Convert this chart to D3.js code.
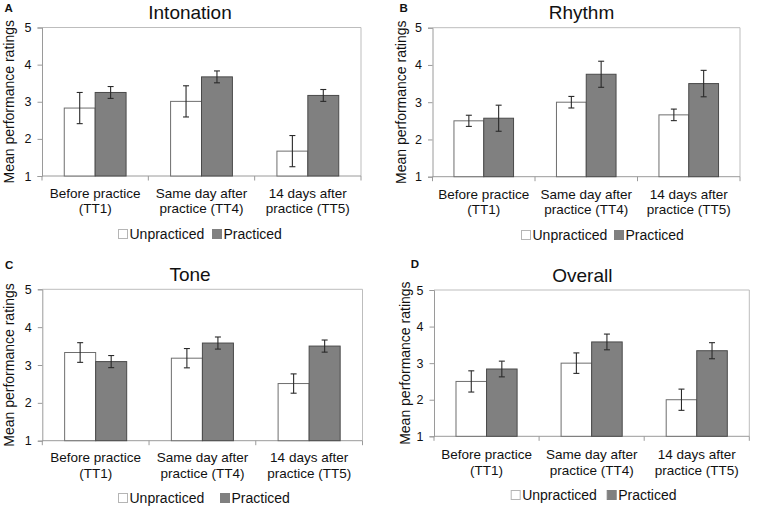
<!DOCTYPE html>
<html>
<head>
<meta charset="utf-8">
<script src="https://cdn.jsdelivr.net/npm/d3@7/dist/d3.min.js"></script>
<style>
  html, body { margin: 0; padding: 0; background: #fff; }
  svg { display: block; }
  text { font-family: "Liberation Sans", Arial, Helvetica, sans-serif; fill: #111; }
</style>
</head>
<body>
<svg id="chart" width="758" height="509"></svg>
<script>
// ---------------- DATA ----------------
const categories = ["TT1", "TT4", "TT5"];
const categoryLine1 = ["Before practice", "Same day after", "14 days after"];
const categoryLine2 = ["(TT1)", "practice (TT4)", "practice (TT5)"];
const seriesNames = ["Unpracticed", "Practiced"];
const yTicks = [1, 2, 3, 4, 5];
const panelTitles = ["Intonation", "Rhythm", "Tone", "Overall"];
const panelLetters = ["A", "B", "C", "D"];

const intonationUnpracticed    = [2.83, 3.01, 1.67];
const intonationUnpracticedErr = [0.42, 0.42, 0.42];
const intonationPracticed      = [3.25, 3.67, 3.17];
const intonationPracticedErr   = [0.16, 0.16, 0.16];

const rhythmUnpracticed    = [2.50, 3.00, 2.66];
const rhythmUnpracticedErr = [0.15, 0.155, 0.155];
const rhythmPracticed      = [2.57, 3.75, 3.50];
const rhythmPracticedErr   = [0.35, 0.35, 0.355];

const toneUnpracticed    = [3.33, 3.18, 2.51];
const toneUnpracticedErr = [0.26, 0.255, 0.255];
const tonePracticed      = [3.09, 3.58, 3.50];
const tonePracticedErr   = [0.16, 0.16, 0.16];

const overallUnpracticed    = [2.50, 3.00, 2.00];
const overallUnpracticedErr = [0.29, 0.28, 0.29];
const overallPracticed      = [2.84, 3.58, 3.34];
const overallPracticedErr   = [0.215, 0.215, 0.22];

const panelValues = [
  [intonationUnpracticed, intonationPracticed],
  [rhythmUnpracticed, rhythmPracticed],
  [toneUnpracticed, tonePracticed],
  [overallUnpracticed, overallPracticed]
];
const panelErrors = [
  [intonationUnpracticedErr, intonationPracticedErr],
  [rhythmUnpracticedErr, rhythmPracticedErr],
  [toneUnpracticedErr, tonePracticedErr],
  [overallUnpracticedErr, overallPracticedErr]
];

// ---------------- LAYOUT ----------------
const layouts = [
  { left: 42, right: 361, top: 27.5, bottom: 176, titleX: 190, titleY: 18.6, letterX: 4.5, letterY: 12,
    yLabelX: 13.5, cat1Y: 197.8, cat2Y: 213.3, legY: 239, legBoxes: [118, 212] },
  { left: 432.5, right: 740, top: 27.7, bottom: 176.7, titleX: 581.5, titleY: 18.8, letterX: 399.5, letterY: 12,
    yLabelX: 405.5, cat1Y: 198.8, cat2Y: 214.3, legY: 240, legBoxes: [521, 614] },
  { left: 42.3, right: 362.5, top: 289.3, bottom: 440.7, titleX: 190, titleY: 281, letterX: 5, letterY: 268.5,
    yLabelX: 13.5, cat1Y: 462, cat2Y: 477.5, legY: 503, legBoxes: [118, 220] },
  { left: 434, right: 749.3, top: 290, bottom: 436.3, titleX: 582.3, titleY: 282, letterX: 410.7, letterY: 268,
    yLabelX: 409.5, cat1Y: 458.6, cat2Y: 474.6, legY: 500, legBoxes: [510.7, 606.7] }
];

const fills = { Unpracticed: "#ffffff", Practiced: "#808080" };
const strokes = { Unpracticed: "#6e6e6e", Practiced: "#4a4a4a" };

const svg = d3.select("#chart");

panelTitles.forEach((title, pi) => {
  const L = layouts[pi];
  const g = svg.append("g");

  const y = d3.scaleLinear().domain([1, 5]).range([L.bottom, L.top]);
  const x0 = d3.scaleBand().domain(categories).range([L.left, L.right]).paddingInner(0).paddingOuter(0);
  const x1 = d3.scaleBand().domain(seriesNames).range([0, x0.bandwidth()]).paddingInner(0).paddingOuter(0.72);

  // frame (top & right)
  g.append("path")
    .attr("d", `M${L.left},${L.top}H${L.right}V${L.bottom}`)
    .attr("fill", "none").attr("stroke", "#bdbdbd").attr("stroke-width", 1);

  // y axis
  const yAxis = d3.axisLeft(y).tickValues(yTicks).tickFormat(d3.format("d")).tickSize(4.5).tickPadding(6);
  const ya = g.append("g").attr("transform", `translate(${L.left},0)`).call(yAxis);
  ya.select(".domain").attr("stroke", "#9a9a9a");
  ya.selectAll(".tick line").attr("stroke", "#9a9a9a");
  ya.selectAll(".tick text").attr("font-family", "'DejaVu Sans', Verdana, sans-serif").attr("font-size", 12.5).attr("fill", "#111");

  // x axis line and boundary ticks
  g.append("line").attr("x1", L.left).attr("x2", L.right).attr("y1", L.bottom).attr("y2", L.bottom)
    .attr("stroke", "#9a9a9a");
  const bounds = categories.map(c => x0(c)).concat([x0(categories[categories.length - 1]) + x0.bandwidth()]);
  g.selectAll(".xtick").data(bounds).enter().append("line")
    .attr("x1", d => d).attr("x2", d => d).attr("y1", L.bottom).attr("y2", L.bottom + 4.5)
    .attr("stroke", "#9a9a9a");

  // bars
  seriesNames.forEach((s, si) => {
    const vals = panelValues[pi][si];
    g.selectAll(".bar-" + si).data(categories).enter().append("rect")
      .attr("x", (c) => x0(c) + x1(s))
      .attr("y", (c, i) => y(vals[i]))
      .attr("width", x1.bandwidth())
      .attr("height", (c, i) => y(1) - y(vals[i]))
      .attr("fill", fills[s]).attr("stroke", strokes[s]).attr("stroke-width", 1);
  });

  // error bars
  seriesNames.forEach((s, si) => {
    const vals = panelValues[pi][si];
    const errs = panelErrors[pi][si];
    const eg = g.selectAll(".err-" + si).data(categories).enter().append("g")
      .attr("stroke", "#2a2a2a").attr("stroke-width", 1.1);
    const cx = (c) => x0(c) + x1(s) + x1.bandwidth() / 2;
    eg.append("line").attr("x1", cx).attr("x2", cx)
      .attr("y1", (c, i) => y(vals[i] + errs[i])).attr("y2", (c, i) => y(vals[i] - errs[i]));
    eg.append("line").attr("x1", c => cx(c) - 3).attr("x2", c => cx(c) + 3)
      .attr("y1", (c, i) => y(vals[i] + errs[i])).attr("y2", (c, i) => y(vals[i] + errs[i]));
    eg.append("line").attr("x1", c => cx(c) - 3).attr("x2", c => cx(c) + 3)
      .attr("y1", (c, i) => y(vals[i] - errs[i])).attr("y2", (c, i) => y(vals[i] - errs[i]));
  });

  // category labels (two-line)
  categories.forEach((c, ci) => {
    const cx = x0(c) + x0.bandwidth() / 2;
    g.append("text").attr("x", cx).attr("y", L.cat1Y).attr("text-anchor", "middle")
      .attr("font-size", 13.5).text(categoryLine1[ci]);
    g.append("text").attr("x", cx).attr("y", L.cat2Y).attr("text-anchor", "middle")
      .attr("font-size", 13.5).text(categoryLine2[ci]);
  });

  // title
  g.append("text").attr("x", L.titleX).attr("y", L.titleY).attr("text-anchor", "middle")
    .attr("font-size", 19).text(title);

  // panel letter
  g.append("text").attr("x", L.letterX).attr("y", L.letterY)
    .attr("font-size", 11.5).attr("font-weight", "bold").text(panelLetters[pi]);

  // y label
  g.append("text")
    .attr("transform", `translate(${L.yLabelX},${(L.top + L.bottom) / 2}) rotate(-90)`)
    .attr("text-anchor", "middle").attr("font-size", 14).text("Mean performance ratings");

  // legend
  seriesNames.forEach((s, si) => {
    const bx = L.legBoxes[si];
    g.append("rect").attr("x", bx + 0.5).attr("y", L.legY - 9.5).attr("width", 9).attr("height", 9)
      .attr("fill", fills[s]).attr("stroke", si === 0 ? "#b5b5b5" : "#808080").attr("stroke-width", 1);
    g.append("text").attr("x", bx + 11.5).attr("y", L.legY).attr("font-size", 14).text(s);
  });
});
</script>
</body>
</html>
